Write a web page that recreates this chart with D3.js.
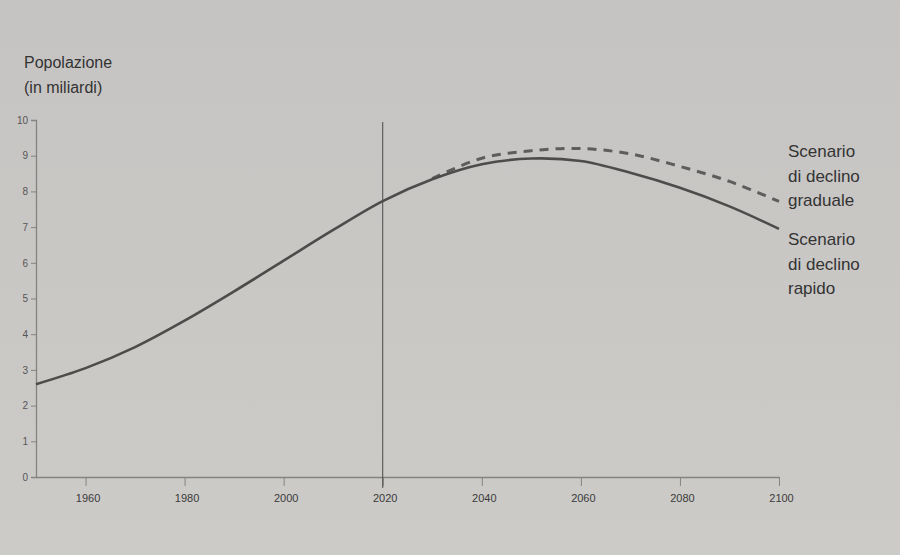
<!DOCTYPE html>
<html><head><meta charset="utf-8">
<script src="https://cdn.jsdelivr.net/npm/d3@7/dist/d3.min.js"></script>
<style>
html,body{margin:0;padding:0;background:#c9c7c5;}
svg{display:block;font-family:"Liberation Sans",Arial,sans-serif;}
</style></head>
<body>
<svg id="c" width="900" height="555"></svg>
<script>
const years = [1950,1960,1970,1980,1990,2000,2010,2020,2030,2040,2050,2060,2070,2080,2090,2100];
const rapid = [2.6,3.05,3.64,4.38,5.2,6.06,6.92,7.73,8.34,8.76,8.92,8.85,8.52,8.1,7.58,6.95];
const gradYears = [2030,2040,2050,2060,2070,2080,2090,2100];
const gradual = [8.36,8.93,9.14,9.2,9.05,8.7,8.28,7.72];
const xTicks = [1960,1980,2000,2020,2040,2060,2080,2100];
const yTicks = [0,1,2,3,4,5,6,7,8,9,10];
const yTitle = ["Popolazione","(in miliardi)"];
const labelGrad = ["Scenario","di declino","graduale"];
const labelRapid = ["Scenario","di declino","rapido"];
const markerYear = 2020;

const svg = d3.select("#c");
const x = d3.scaleLinear().domain([1950,2100]).range([36,779]);
const y = d3.scaleLinear().domain([0,10]).range([477,120]);

const defs = svg.append("defs");
const g0 = defs.append("linearGradient").attr("id","bg").attr("x1",0).attr("y1",0).attr("x2",0).attr("y2",1);
g0.append("stop").attr("offset","0").attr("stop-color","#c6c4c2");
g0.append("stop").attr("offset","1").attr("stop-color","#cdcbc8");
svg.append("rect").attr("width",900).attr("height",555).attr("fill","url(#bg)");

// Y axis
const ya = svg.append("g").attr("transform",`translate(${x(1950)},0)`)
  .call(d3.axisLeft(y).tickValues(yTicks).tickSize(5).tickPadding(3));
ya.select(".domain").attr("stroke","#858381").attr("stroke-width",1.3);
ya.selectAll(".tick line").attr("stroke","#858381");
ya.selectAll(".tick text").attr("fill","#555").attr("font-size","10px");

// X axis
const xa = svg.append("g").attr("transform",`translate(0,${y(0)})`)
  .call(d3.axisBottom(x).tickValues(xTicks).tickSize(9).tickPadding(8).tickFormat(d3.format("d")).tickSizeOuter(0));
xa.select(".domain").attr("stroke","#858381").attr("stroke-width",1.3);
xa.selectAll(".tick line").attr("stroke","#858381");
xa.selectAll(".tick text").attr("fill","#3a3a3a").attr("font-size","11px").attr("dx","2");

// vertical marker line at 2020
svg.append("line")
  .attr("x1",x(markerYear)).attr("x2",x(markerYear))
  .attr("y1",y(10)+2).attr("y2",y(0)+11)
  .attr("stroke","#4a4a4a").attr("stroke-width",1);

// lines
const line = d3.line().curve(d3.curveCatmullRom.alpha(0.5));
svg.append("path")
  .attr("d", line(gradYears.map((d,i)=>[x(d),y(gradual[i])])))
  .attr("fill","none").attr("stroke","#5f5d5c").attr("stroke-width",3)
  .attr("stroke-dasharray","9,7");
svg.append("path")
  .attr("d", line(years.map((d,i)=>[x(d),y(rapid[i])])))
  .attr("fill","none").attr("stroke","#4e4c4b").attr("stroke-width",2.6);

// Y title
svg.selectAll("text.yt").data(yTitle).enter().append("text")
  .attr("x",24).attr("y",(d,i)=>68+i*25)
  .attr("fill","#333").attr("font-size","16px").text(d=>d);

// scenario labels
svg.selectAll("text.lg").data(labelGrad).enter().append("text")
  .attr("x",788).attr("y",(d,i)=>157+i*24.5)
  .attr("fill","#333").attr("font-size","17px").text(d=>d);
svg.selectAll("text.lr").data(labelRapid).enter().append("text")
  .attr("x",788).attr("y",(d,i)=>245+i*24.5)
  .attr("fill","#333").attr("font-size","17px").text(d=>d);
</script>
</body></html>
